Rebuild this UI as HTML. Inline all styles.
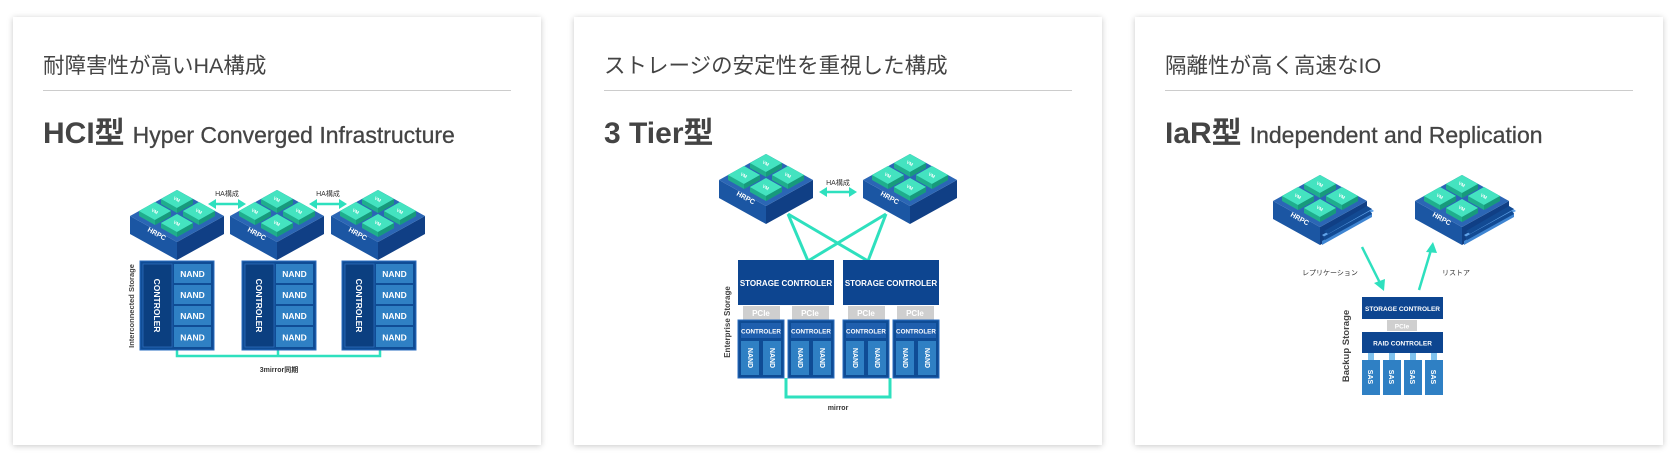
<!DOCTYPE html>
<html><head><meta charset="utf-8"><style>
html,body{margin:0;padding:0;background:#fff;width:1674px;height:457px;overflow:hidden}
.card{position:absolute;top:17px;width:528px;height:428px;background:#fff;box-shadow:0 1px 6px rgba(0,0,0,0.22)}
.h{position:absolute;left:30px;top:32px;font:21.5px "Liberation Sans","Noto Sans CJK JP",sans-serif;color:#444}
.ln{position:absolute;left:30px;right:30px;top:73px;border-top:1px solid #ccc}
.t{position:absolute;left:30px;top:91px;font:bold 30px "Liberation Sans","Noto Sans CJK JP",sans-serif;color:#444;white-space:nowrap}
.t span{font-weight:normal;font-size:23px;margin-left:8px;-webkit-text-stroke:0.3px #444}
svg{position:absolute;left:0;top:0}
</style></head><body>
<div class="card" style="left:13px"><div class="h">耐障害性が高いHA構成</div><div class="ln"></div><div class="t">HCI型<span>Hyper Converged Infrastructure</span></div></div>
<div class="card" style="left:574px"><div class="h">ストレージの安定性を重視した構成</div><div class="ln"></div><div class="t">3 Tier型</div></div>
<div class="card" style="left:1135px"><div class="h">隔離性が高く高速なIO</div><div class="ln"></div><div class="t">IaR型<span>Independent and Replication</span></div></div>

<svg width="1674" height="457" xmlns="http://www.w3.org/2000/svg" font-family="Liberation Sans, Noto Sans CJK JP, sans-serif">
<defs>
<g id="vm">
<polygon points="0,-9 16,0 16,5 0,14 -16,5 -16,0" fill="#1fae8d"/>
<polygon points="0,-9 16,0 0,9 -16,0" fill="#44e3c0"/>
<polygon points="0,9 16,0 16,5 0,14" fill="#179a7c"/>
<text x="0" y="2" font-size="4.5" font-weight="bold" fill="#fff" text-anchor="middle" transform="rotate(30)">VM</text>
</g>
<g id="hrpc">
<polygon points="-47,26 0,52 0,70 -47,44" fill="#1b56a3"/>
<polygon points="0,52 47,26 47,44 0,70" fill="#103f85"/>
<polygon points="0,0 47,26 0,52 -47,26" fill="#2b66b5"/>
<text x="-30" y="41" font-size="7" font-weight="bold" fill="#fff" transform="rotate(29 -30 41)">HRPC</text>
<use href="#vm" x="0" y="9"/><use href="#vm" x="-22" y="21"/><use href="#vm" x="22" y="21"/><use href="#vm" x="0" y="33"/>
</g>
<g id="ssd">
<polygon points="2,66 52,38 52,42 2,70" fill="#3f85d2"/>
<polygon points="2,60 50,33 54,36 6,63" fill="#5fa2e8"/>
<polygon points="4,56 47,31 52,34 8,59" fill="#124a93"/>
<polygon points="3,62 50,36 52,39 5,65" fill="#124a93"/>
</g>
<g id="hci">
<rect x="0" y="0" width="74" height="89" fill="#0f4c95" stroke="#2a6cc0" stroke-width="1"/>
<rect x="3" y="3" width="29" height="83" fill="#0b3f80" stroke="#2c6bb8" stroke-width="0.8"/>
<text x="0" y="0" font-size="8.5" font-weight="bold" fill="#fff" text-anchor="middle" transform="translate(14,44.5) rotate(90)">CONTROLER</text>
<rect x="34" y="3" width="37" height="19" fill="#2f80c4"/><text x="52.5" y="16" font-size="8.5" font-weight="bold" fill="#fff" text-anchor="middle">NAND</text>
<rect x="34" y="24" width="37" height="19" fill="#2f80c4"/><text x="52.5" y="37" font-size="8.5" font-weight="bold" fill="#fff" text-anchor="middle">NAND</text>
<rect x="34" y="45" width="37" height="19" fill="#2f80c4"/><text x="52.5" y="58" font-size="8.5" font-weight="bold" fill="#fff" text-anchor="middle">NAND</text>
<rect x="34" y="66" width="37" height="20" fill="#2f80c4"/><text x="52.5" y="79.5" font-size="8.5" font-weight="bold" fill="#fff" text-anchor="middle">NAND</text>
</g>
<g id="t3">
<rect x="0" y="0" width="46" height="58" fill="#0f4c95" stroke="#2a6cc0" stroke-width="1"/>
<rect x="3" y="3" width="40" height="15" fill="#1f5fae"/>
<text x="23" y="13.5" font-size="6.3" font-weight="bold" fill="#fff" text-anchor="middle">CONTROLER</text>
<rect x="3" y="21" width="18" height="34" fill="#2f80c4"/>
<rect x="25" y="21" width="18" height="34" fill="#2f80c4"/>
<text font-size="7" font-weight="bold" fill="#fff" text-anchor="middle" transform="translate(10,38) rotate(90)">NAND</text>
<text font-size="7" font-weight="bold" fill="#fff" text-anchor="middle" transform="translate(32,38) rotate(90)">NAND</text>
</g>
<g id="ar"><line x1="-13" y1="0" x2="13" y2="0" stroke="#2ee0be" stroke-width="2.5"/><polygon points="-19,0 -11,-5 -11,5" fill="#2ee0be"/><polygon points="19,0 11,-5 11,5" fill="#2ee0be"/></g>
</defs>

<!-- Card 1 -->
<use href="#hrpc" x="177" y="190"/><use href="#hrpc" x="277" y="190"/><use href="#hrpc" x="378" y="190"/>
<text x="227" y="196" font-size="7" fill="#333" text-anchor="middle">HA構成</text><use href="#ar" x="227" y="204"/>
<text x="328" y="196" font-size="7" fill="#333" text-anchor="middle">HA構成</text><use href="#ar" x="328" y="204"/>
<polyline points="177,350 177,356 380,356 380,350" fill="none" stroke="#2ee0be" stroke-width="2.5"/>
<line x1="278" y1="350" x2="278" y2="356" stroke="#2ee0be" stroke-width="2.5"/>
<use href="#hci" x="140" y="261"/><use href="#hci" x="242" y="261"/><use href="#hci" x="342" y="261"/>
<text font-size="7.5" font-weight="bold" fill="#444" text-anchor="middle" transform="translate(134,306) rotate(-90)">Interconnected Storage</text>
<text x="279" y="372" font-size="7" font-weight="bold" fill="#333" text-anchor="middle">3mirror同期</text>

<!-- Card 2 -->
<g stroke="#2ee0be" stroke-width="3" fill="none">
<line x1="788" y1="214" x2="808" y2="261"/><line x1="788" y1="214" x2="868" y2="261"/>
<line x1="886" y1="214" x2="808" y2="261"/><line x1="886" y1="214" x2="868" y2="261"/>
<polyline points="786,378 786,397 890,397 890,378"/>
</g>
<use href="#hrpc" x="766" y="154"/><use href="#hrpc" x="910" y="154"/>
<text x="838" y="185" font-size="7" fill="#333" text-anchor="middle">HA構成</text><use href="#ar" x="838" y="192"/>
<rect x="738" y="260" width="96" height="45" fill="#0d4590"/><text x="786" y="286" font-size="8" font-weight="bold" fill="#fff" text-anchor="middle">STORAGE CONTROLER</text>
<rect x="843" y="260" width="96" height="45" fill="#0d4590"/><text x="891" y="286" font-size="8" font-weight="bold" fill="#fff" text-anchor="middle">STORAGE CONTROLER</text>
<g fill="#cfcfcf"><rect x="743" y="306" width="37" height="14"/><rect x="792" y="306" width="37" height="14"/><rect x="848" y="306" width="37" height="14"/><rect x="897" y="306" width="37" height="14"/></g>
<g font-size="8" font-weight="bold" fill="#fff" text-anchor="middle"><text x="761" y="316">PCIe</text><text x="810" y="316">PCIe</text><text x="866" y="316">PCIe</text><text x="915" y="316">PCIe</text></g>
<use href="#t3" x="738" y="320"/><use href="#t3" x="788" y="320"/><use href="#t3" x="843" y="320"/><use href="#t3" x="893" y="320"/>
<text font-size="8" font-weight="bold" fill="#444" text-anchor="middle" transform="translate(730,322) rotate(-90)">Enterprise Storage</text>
<text x="838" y="410" font-size="7" font-weight="bold" fill="#333" text-anchor="middle">mirror</text>

<!-- Card 3 -->
<use href="#hrpc" x="1320" y="175"/><use href="#ssd" x="1320" y="175"/>
<use href="#hrpc" x="1462" y="175"/><use href="#ssd" x="1462" y="175"/>
<text x="1330" y="275" font-size="7" fill="#333" text-anchor="middle">レプリケーション</text>
<text x="1456" y="275" font-size="7" fill="#333" text-anchor="middle">リストア</text>
<g stroke="#2ee0be" stroke-width="2.5"><line x1="1362" y1="247" x2="1380" y2="283"/><line x1="1419" y1="290" x2="1431" y2="250"/></g>
<polygon points="1384,291 1374,283 1385,279" fill="#2ee0be"/>
<polygon points="1433,242 1426,252 1437,253" fill="#2ee0be"/>
<rect x="1362" y="297" width="81" height="22" fill="#0d4590"/><text x="1402.5" y="311" font-size="6.5" font-weight="bold" fill="#fff" text-anchor="middle">STORAGE CONTROLER</text>
<rect x="1387" y="320" width="30" height="11" fill="#cfcfcf"/><text x="1402" y="328.5" font-size="6.5" font-weight="bold" fill="#fff" text-anchor="middle">PCIe</text>
<rect x="1362" y="332" width="81" height="21" fill="#0d4590"/><text x="1402.5" y="345.5" font-size="6.5" font-weight="bold" fill="#fff" text-anchor="middle">RAID CONTROLER</text>
<g fill="#7fc2ee"><rect x="1368" y="353" width="6" height="7"/><rect x="1389" y="353" width="6" height="7"/><rect x="1410" y="353" width="6" height="7"/><rect x="1431" y="353" width="6" height="7"/></g>
<g fill="#2f80c4"><rect x="1362" y="360" width="18" height="35"/><rect x="1383" y="360" width="18" height="35"/><rect x="1404" y="360" width="18" height="35"/><rect x="1425" y="360" width="18" height="35"/></g>
<g font-size="7" font-weight="bold" fill="#fff" text-anchor="middle">
<text transform="translate(1368,377) rotate(90)">SAS</text><text transform="translate(1389,377) rotate(90)">SAS</text><text transform="translate(1410,377) rotate(90)">SAS</text><text transform="translate(1431,377) rotate(90)">SAS</text></g>
<text font-size="9.5" font-weight="bold" fill="#444" text-anchor="middle" transform="translate(1349,346) rotate(-90)">Backup Storage</text>
</svg>
</body></html>
